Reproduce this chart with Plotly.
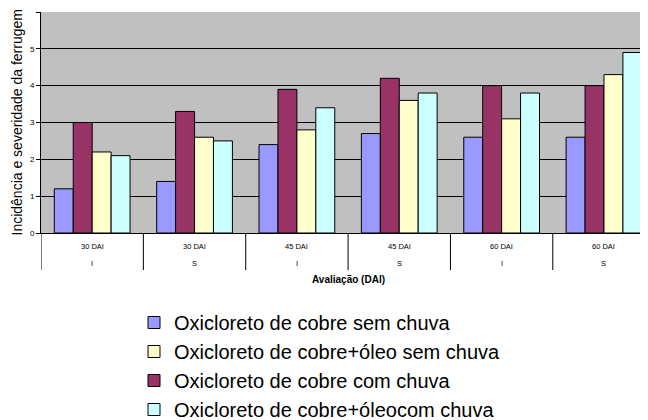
import plotly.graph_objects as go

avaliacao = ["30 DAI", "30 DAI", "45 DAI", "45 DAI", "60 DAI", "60 DAI"]
tipo = ["I", "S", "I", "S", "I", "S"]

series_names = [
    "Oxicloreto de cobre sem chuva",
    "Oxicloreto de cobre com chuva",
    "Oxicloreto de cobre+óleo sem chuva",
    "Oxicloreto de cobre+óleocom chuva",
]
sem_chuva = [1.2, 1.4, 2.4, 2.7, 2.6, 2.6]
com_chuva = [3.0, 3.3, 3.9, 4.2, 4.0, 4.0]
oleo_sem_chuva = [2.2, 2.6, 2.8, 3.6, 3.1, 4.3]
oleo_com_chuva = [2.1, 2.5, 3.4, 3.8, 3.8, 4.9]
colors = ["#9999FF", "#993366", "#FFFFCC", "#CCFFFF"]
legend_ranks = [1, 3, 2, 4]

values = [sem_chuva, com_chuva, oleo_sem_chuva, oleo_com_chuva]
xs = list(range(len(avaliacao)))

# figure is drawn at an 8px page offset (body margin)
L, T = 33, 4
W, H = 640, 412
PW, PH = 607, 221

fig = go.Figure()
for name, vals, col, rank in zip(series_names, values, colors, legend_ranks):
    fig.add_trace(go.Bar(
        x=xs, y=vals, name=name, legendrank=rank, legendgroup=name,
        marker=dict(color=col, line=dict(color="black", width=1)),
    ))

shapes = []
for i in range(len(avaliacao) + 1):
    shapes.append(dict(type="line", xref="x", yref="paper", x0=i - 0.5, x1=i - 0.5,
                       y0=0, y1=-37 / PH, line=dict(color="black", width=1)))

annotations = []
for x, a, t in zip(xs, avaliacao, tipo):
    annotations.append(dict(text=a, xref="x", yref="paper", x=x, y=-13 / PH,
                            xanchor="center", yanchor="middle", showarrow=False,
                            font=dict(size=7.5)))
    annotations.append(dict(text=t, xref="x", yref="paper", x=x, y=-30 / PH,
                            xanchor="center", yanchor="middle", showarrow=False,
                            font=dict(size=7.5)))
annotations.append(dict(text="<b>Avaliação (DAI)</b>", xref="paper", yref="paper",
                        x=(340 - L) / PW, y=-46 / PH, xanchor="center", yanchor="middle",
                        showarrow=False, font=dict(size=10)))
annotations.append(dict(text="Incidência e severidade da ferrugem", xref="paper", yref="paper",
                        x=(8 - L) / PW, y=0.5, xanchor="center", yanchor="middle",
                        textangle=-90, showarrow=False, font=dict(size=14)))

fig.update_layout(
    width=W, height=H,
    margin=dict(l=L, r=W - L - PW, t=T, b=H - T - PH, autoexpand=False),
    paper_bgcolor="white", plot_bgcolor="#C0C0C0",
    font=dict(family="Liberation Sans, Arial", color="black"),
    barmode="group", bargap=0.26, bargroupgap=0,
    showlegend=True,
    legend=dict(x=(126 - L) / PW, y=-(295 - T - PH) / PH, xanchor="left", yanchor="top",
                font=dict(size=20), tracegroupgap=0, bgcolor="rgba(0,0,0,0)"),
    shapes=shapes,
    annotations=annotations,
    xaxis=dict(tickvals=xs, showticklabels=False, range=[-0.5, 5.43],
               ticks="", showgrid=False, zeroline=False, automargin=False,
               showline=True, linecolor="black", linewidth=1),
    yaxis=dict(range=[0, 6], dtick=1, tickfont=dict(size=8), ticks="outside", ticklen=4,
               tickcolor="black", showgrid=True, gridcolor="black", gridwidth=1,
               zeroline=False, showline=True, linecolor="black", linewidth=1,
               automargin=False),
)

fig.write_html("out.html")
